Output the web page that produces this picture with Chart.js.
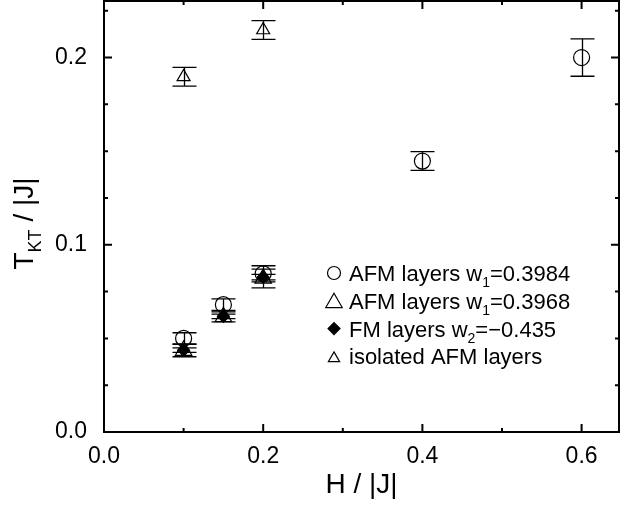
<!DOCTYPE html>
<html>
<head>
<meta charset="utf-8">
<script src="https://cdn.jsdelivr.net/npm/chart.js@4.4.1/dist/chart.umd.min.js"></script>
<style>
  html, body { margin: 0; padding: 0; background: #fff; }
  #wrap { width: 620px; height: 507px; }
</style>
</head>
<body>
<div id="wrap"><canvas id="chart" width="620" height="507"></canvas></div>
<script>
// H/|J| and T_KT/|J|, with error bar half-heights
const hAfm1   = [0.1, 0.15, 0.2, 0.4, 0.6];
const tAfm1   = [0.050, 0.068, 0.0845, 0.1447, 0.200];
const errAfm1 = [0.003, 0.0031, 0.0043, 0.005, 0.010];

const hAfm2   = [0.1, 0.15, 0.2];
const tAfm2   = [0.0435, 0.0615, 0.082];
const errAfm2 = [0.0033, 0.0027, 0.005];

const hFm     = [0.1, 0.15, 0.2];
const tFm     = [0.0437, 0.0618, 0.0827];
const errFm   = [0.0012, 0.0012, 0.0015];

const hIso    = [0.1, 0.2];
const tIso    = [0.1897, 0.2147];
const errIso  = [0.005, 0.005];

const xTicks = [0, 0.2, 0.4, 0.6];
const yTicks = [0, 0.1, 0.2];
const xMinor = [0.1, 0.3, 0.5];
const yMinor = [0.025, 0.05, 0.075, 0.125, 0.15, 0.175, 0.225];

// legend text: [before, subscript, after]
const legendLabels = [
  ['AFM layers w', '1', '=0.3984'],
  ['AFM layers w', '1', '=0.3968'],
  ['FM layers w', '2', '=\u22120.435'],
  ['isolated AFM layers', '', '']
];

const FONT = '"Liberation Sans", Arial, Helvetica, sans-serif';
const pts = (xs, ys) => xs.map((x, i) => ({ x, y: ys[i] }));

// fixed axis boxes, no extra label padding
const fixBox = (w, h) => s => {
  if (w) s.width = w;
  if (h) s.height = h;
  s.paddingTop = s.paddingBottom = s.paddingLeft = s.paddingRight = 0;
};

// vertical error bars with caps
const errorBars = {
  id: 'errorBars',
  beforeDatasetsDraw(chart) {
    const { ctx, scales: { x, y } } = chart;
    ctx.save();
    ctx.strokeStyle = '#000';
    ctx.lineWidth = 1.3;
    chart.data.datasets.forEach(ds => {
      ds.data.forEach((p, i) => {
        const e  = ds.errors[i];
        const px = Math.round(x.getPixelForValue(p.x)) + 0.5;
        const y1 = y.getPixelForValue(p.y + e);
        const y2 = y.getPixelForValue(p.y - e);
        ctx.beginPath();
        ctx.moveTo(px, y1); ctx.lineTo(px, y2);
        ctx.moveTo(px - 12, y1); ctx.lineTo(px + 12, y1);
        ctx.moveTo(px - 12, y2); ctx.lineTo(px + 12, y2);
        ctx.stroke();
      });
    });
    ctx.restore();
  }
};

// box frame with inward ticks on all four sides
const frame = {
  id: 'frame',
  afterDraw(chart) {
    const { ctx, chartArea: a, scales: { x, y } } = chart;
    ctx.save();
    ctx.strokeStyle = '#000';
    ctx.lineWidth = 2;
    ctx.strokeRect(a.left, a.top, a.right - a.left, a.bottom - a.top);
    ctx.beginPath();
    const xt = (vals, len) => vals.forEach(v => {
      const p = x.getPixelForValue(v);
      ctx.moveTo(p, a.bottom); ctx.lineTo(p, a.bottom - len);
      ctx.moveTo(p, a.top);    ctx.lineTo(p, a.top + len);
    });
    const yt = (vals, len) => vals.forEach(v => {
      const p = y.getPixelForValue(v);
      ctx.moveTo(a.left, p);  ctx.lineTo(a.left + len, p);
      ctx.moveTo(a.right, p); ctx.lineTo(a.right - len, p);
    });
    xt(xTicks, 8); xt(xMinor, 4);
    yt(yTicks, 8); yt(yMinor, 4);
    ctx.stroke();
    ctx.restore();
  }
};

// legend inside the plot, text with subscripts
const legendBox = {
  id: 'legendBox',
  afterDraw(chart) {
    const ctx = chart.ctx;
    const sx = 334, tx = 349, y0 = 273, dy = 27.8;
    ctx.save();
    chart.data.datasets.forEach((ds, i) => {
      const cy = y0 + i * dy;
      ctx.fillStyle = ds.backgroundColor;
      ctx.strokeStyle = '#000';
      ctx.lineWidth = 1.2;
      Chart.helpers.drawPoint(ctx, {
        pointStyle: ds.pointStyle, radius: ds.legendRadius, borderWidth: 1.2, rotation: 0
      }, sx, cy + (ds.pointStyle === 'triangle' ? 2 : 0));
      const [pre, sub, post] = legendLabels[i];
      ctx.fillStyle = '#000';
      ctx.textBaseline = 'alphabetic';
      ctx.textAlign = 'left';
      const base = cy + 8;
      ctx.font = '22px ' + FONT;
      ctx.fillText(pre, tx, base);
      let cx = tx + ctx.measureText(pre).width;
      if (sub) {
        ctx.font = '14px ' + FONT;
        ctx.fillText(sub, cx, base + 6);
        cx += ctx.measureText(sub).width;
        ctx.font = '22px ' + FONT;
        ctx.fillText(post, cx, base);
      }
    });
    ctx.restore();
  }
};

// rotated y title T_KT / |J|
const yTitle = {
  id: 'yTitle',
  afterDraw(chart) {
    const ctx = chart.ctx;
    const a = chart.chartArea;
    const big = '28px ' + FONT, small = '18px ' + FONT;
    ctx.save();
    ctx.fillStyle = '#000';
    ctx.textBaseline = 'alphabetic';
    ctx.textAlign = 'left';
    ctx.font = big;
    const w1 = ctx.measureText('T').width, w3 = ctx.measureText(' / |J|').width;
    ctx.font = small;
    const w2 = ctx.measureText('KT').width;
    ctx.translate(33, (a.top + a.bottom) / 2 + 7);
    ctx.rotate(-Math.PI / 2);
    let cx = -(w1 + w2 + w3) / 2;
    ctx.font = big;   ctx.fillText('T', cx, 0); cx += w1;
    ctx.font = small; ctx.fillText('KT', cx, 8); cx += w2;
    ctx.font = big;   ctx.fillText(' / |J|', cx, 0);
    ctx.restore();
  }
};

new Chart(document.getElementById('chart'), {
  type: 'scatter',
  data: {
    datasets: [
      { data: pts(hAfm1, tAfm1), errors: errAfm1, pointStyle: 'circle', pointRadius: 8, legendRadius: 6.5,
        borderColor: '#000', backgroundColor: 'rgba(0,0,0,0)', borderWidth: 1.2 },
      { data: pts(hAfm2, tAfm2), errors: errAfm2, pointStyle: 'triangle', pointRadius: 9.5, legendRadius: 9.5,
        borderColor: '#000', backgroundColor: 'rgba(0,0,0,0)', borderWidth: 1.2 },
      { data: pts(hFm, tFm), errors: errFm, pointStyle: 'rectRot', pointRadius: 6, legendRadius: 6,
        borderColor: '#000', backgroundColor: '#000', borderWidth: 1.2 },
      { data: pts(hIso, tIso), errors: errIso, pointStyle: 'triangle', pointRadius: 7.5, legendRadius: 6.5,
        borderColor: '#000', backgroundColor: 'rgba(0,0,0,0)', borderWidth: 1.2 }
    ]
  },
  options: {
    responsive: false,
    animation: false,
    devicePixelRatio: 1,
    events: [],
    layout: { autoPadding: false, padding: { top: 1, right: 1, left: 0, bottom: 0 } },
    plugins: { legend: { display: false }, tooltip: { enabled: false } },
    scales: {
      x: {
        type: 'linear', min: 0, max: 0.647,
        afterBuildTicks: s => { s.ticks = xTicks.map(v => ({ value: v })); },
        afterFit: fixBox(0, 75),
        grid: { display: false, drawTicks: false },
        border: { display: false },
        ticks: { autoSkip: false, maxRotation: 0, padding: 11, color: '#000',
                 font: { family: FONT, size: 23 }, callback: v => v.toFixed(1) },
        title: { display: true, text: 'H / |J|', color: '#000',
                 font: { family: FONT, size: 28 }, padding: { top: 0, bottom: 5 } }
      },
      y: {
        type: 'linear', min: 0, max: 0.2302,
        afterBuildTicks: s => { s.ticks = yTicks.map(v => ({ value: v })); },
        afterFit: fixBox(104, 0),
        grid: { display: false, drawTicks: false },
        border: { display: false },
        ticks: { autoSkip: false, padding: 17, color: '#000',
                 font: { family: FONT, size: 23 }, callback: v => v.toFixed(1) },
        title: { display: false }
      }
    }
  },
  plugins: [errorBars, frame, legendBox, yTitle]
});
</script>
</body>
</html>
